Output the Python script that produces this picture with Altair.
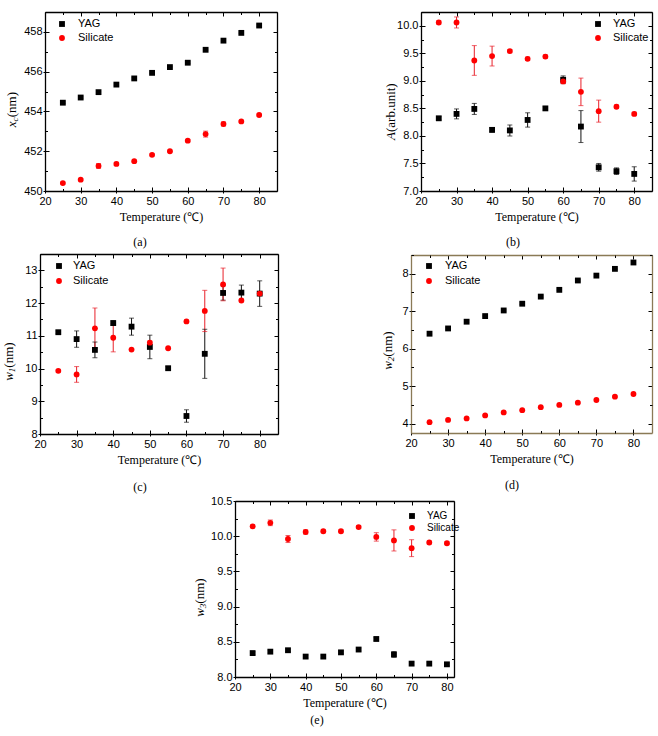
import altair as alt
import pandas as pd

# Temperatures (°C) shared by every panel
TEMPS = [25, 30, 35, 40, 45, 50, 55, 60, 65, 70, 75, 80]
SERIES = ["YAG", "Silicate"]

# (a) peak centre x_c (nm)
XC_YAG = [454.44, 454.70, 454.97, 455.35, 455.66, 455.94, 456.23, 456.45, 457.10, 457.56, 457.95, 458.32]
XC_YAG_ERR = [0.04] * 12
XC_SIL = [450.40, 450.57, 451.26, 451.36, 451.50, 451.82, 452.00, 452.53, 452.86, 453.37, 453.50, 453.82]
XC_SIL_ERR = [0.05, 0.05, 0.12, 0.08, 0.05, 0.05, 0.05, 0.06, 0.15, 0.10, 0.05, 0.05]

# (b) amplitude A (arb. unit)
A_YAG = [8.32, 8.40, 8.49, 8.11, 8.10, 8.29, 8.50, 9.02, 8.17, 7.43, 7.36, 7.31]
A_YAG_ERR = [0.03, 0.09, 0.10, 0.04, 0.10, 0.13, 0.03, 0.07, 0.29, 0.07, 0.06, 0.13]
A_SIL = [10.06, 10.06, 9.37, 9.45, 9.54, 9.40, 9.44, 8.99, 8.80, 8.45, 8.53, 8.40]
A_SIL_ERR = [0.03, 0.10, 0.27, 0.18, 0.03, 0.03, 0.03, 0.04, 0.25, 0.20, 0.03, 0.03]

# (c) width w1 (nm)
W1_YAG = [11.11, 10.90, 10.57, 11.39, 11.28, 10.66, 10.01, 8.55, 10.45, 12.31, 12.32, 12.29]
W1_YAG_ERR = [0.04, 0.25, 0.24, 0.07, 0.26, 0.36, 0.05, 0.19, 0.75, 0.22, 0.23, 0.39]
W1_SIL = [9.93, 9.82, 11.23, 10.94, 10.58, 10.79, 10.62, 11.44, 11.76, 12.57, 12.08, 12.29]
W1_SIL_ERR = [0.04, 0.24, 0.62, 0.43, 0.03, 0.05, 0.03, 0.04, 0.63, 0.50, 0.04, 0.04]

# (d) width w2 (nm)
W2_YAG = [6.40, 6.54, 6.72, 6.87, 7.02, 7.20, 7.39, 7.57, 7.82, 7.95, 8.13, 8.30]
W2_YAG_ERR = [0.02] * 12
W2_SIL = [4.04, 4.10, 4.14, 4.22, 4.30, 4.36, 4.44, 4.50, 4.56, 4.63, 4.72, 4.79]
W2_SIL_ERR = [0.02] * 12

# (e) width w3 (nm)
W3_YAG = [8.34, 8.36, 8.38, 8.29, 8.29, 8.35, 8.39, 8.54, 8.32, 8.19, 8.19, 8.18]
W3_YAG_ERR = [0.02, 0.02, 0.02, 0.02, 0.02, 0.02, 0.02, 0.02, 0.04, 0.02, 0.02, 0.02]
W3_SIL = [10.14, 10.19, 9.96, 10.06, 10.07, 10.07, 10.13, 9.99, 9.94, 9.83, 9.91, 9.90]
W3_SIL_ERR = [0.02, 0.04, 0.05, 0.03, 0.02, 0.02, 0.02, 0.06, 0.15, 0.12, 0.02, 0.02]

X_MAJOR = [20, 30, 40, 50, 60, 70, 80]
X_MINOR = [25, 35, 45, 55, 65, 75]

W, H = 658, 736
SANS = "Liberation Sans"
SERIF = "Liberation Serif"
ONE = pd.DataFrame({"k": [0]})
KEY = pd.DataFrame({"series": SERIES})
IND = dict(x="independent", y="independent", color="independent", shape="independent",
           stroke="independent", fill="independent")

MARK_COLORS = alt.Scale(domain=SERIES, range=["black", "#ff0000"])
MARK_SHAPES = alt.Scale(domain=SERIES, range=["square", "circle"])
BAR_COLORS = alt.Scale(domain=SERIES, range=["#111111", "#e8202a"])
MARK_SIZE = 34


def table(yag, yag_err, sil, sil_err):
    rows = []
    for name, vals, errs in (("YAG", yag, yag_err), ("Silicate", sil, sil_err)):
        for t, v, e in zip(TEMPS, vals, errs):
            rows.append({"T": t, "v": v, "lo": v - e, "hi": v + e, "series": name})
    return pd.DataFrame(rows)


def steps(lo, hi, step):
    out, v = [], lo
    while v <= hi + 1e-9:
        out.append(round(v, 4))
        v += step
    return out


def text_piece(txt, x, y, size, italic=False, dx=0, dy=0, angle=0, align="left", font=SERIF):
    return alt.Chart(ONE).mark_text(
        text=txt, font=font, fontSize=size, fontStyle="italic" if italic else "normal",
        angle=angle, align=align, baseline="middle", dx=dx, dy=dy, color="black",
    ).encode(x=alt.value(x), y=alt.value(y))


def y_title(pieces, x, yc):
    # pieces: (text, italic, size, advance, subscript shift); drawn bottom-to-top
    total = sum(p[3] for p in pieces)
    start = yc + total / 2
    layers, adv = [], 0
    for txt, italic, size, width, sub in pieces:
        layers.append(text_piece(txt, x, start, size, italic, dx=adv, dy=sub, angle=270))
        adv += width
    return layers


def key(sym_x, label_x, rows, font_size=11):
    # series key: one symbol and one label per series, rows placed by a point scale
    rows_scale = alt.Scale(type="point", domain=SERIES, range=list(rows), padding=0)
    sym = alt.Chart(KEY).mark_point(filled=True, size=MARK_SIZE, opacity=1, strokeWidth=0).encode(
        x=alt.value(sym_x),
        y=alt.Y("series:N", scale=rows_scale, axis=None),
        color=alt.Color("series:N", scale=MARK_COLORS, legend=None),
        shape=alt.Shape("series:N", scale=MARK_SHAPES, legend=None),
    )
    lab = alt.Chart(KEY).mark_text(font=SANS, fontSize=font_size, align="left", baseline="middle",
                                   color="black").encode(
        x=alt.value(label_x),
        y=alt.Y("series:N", scale=rows_scale, axis=None),
        text="series:N",
    )
    return alt.layer(sym, lab)


def panel(df, box, xmax, ydom, ymaj, ymin, yfmt, title, title_at, caption, caption_at, frame="black"):
    L, R, T, B = box
    xs = alt.Scale(domain=[20, xmax], range=[L, R], nice=False, zero=False)
    ys = alt.Scale(domain=ydom, range=[B, T], nice=False, zero=False)
    base = alt.Chart(df)

    def yy(field, axis):
        return alt.Y(f"{field}:Q", scale=ys, axis=axis)

    def xx(axis):
        return alt.X("T:Q", scale=xs, axis=axis)

    stroke = alt.Stroke("series:N", scale=BAR_COLORS, legend=None)
    fill = alt.Fill("series:N", scale=BAR_COLORS, legend=None)

    bars = base.mark_rule(strokeWidth=1).encode(x=xx(None), y=yy("lo", None), y2="hi:Q", stroke=stroke)
    cap_lo = base.mark_tick(orient="horizontal", size=5, thickness=1).encode(
        x=xx(None), y=yy("lo", None), fill=fill)
    cap_hi = base.mark_tick(orient="horizontal", size=5, thickness=1).encode(
        x=xx(None), y=yy("hi", None), fill=fill)
    pts = base.mark_point(filled=True, size=MARK_SIZE, opacity=1, strokeWidth=0).encode(
        x=xx(None), y=yy("v", None),
        color=alt.Color("series:N", scale=MARK_COLORS, legend=None),
        shape=alt.Shape("series:N", scale=MARK_SHAPES, legend=None),
    )

    frame_style = dict(domain=True, domainColor=frame, domainWidth=1.3, grid=False)
    labelled = base.mark_point(opacity=0).encode(
        x=xx(alt.Axis(orient="bottom", offset=-(H - B), values=X_MAJOR, title="Temperature (℃)",
                      tickSize=2, labelPadding=2, titlePadding=5, labelFlush=False,
                      labelOverlap=False, **frame_style)),
        y=yy("v", alt.Axis(orient="left", offset=-L, values=ymaj, title=None, format=yfmt,
                           tickSize=2, labelPadding=1, labelFlush=False, labelOverlap=False,
                           **frame_style)),
    )

    def ticks_low_left(xvals, yvals, size):
        # ticks pointing into the box from the bottom and left edges
        return base.mark_point(opacity=0).encode(
            x=xx(alt.Axis(orient="top", offset=-B, values=xvals, tickSize=size, labels=False,
                          title=None, grid=False, domain=False)),
            y=yy("v", alt.Axis(orient="right", offset=-(W - L), values=yvals, tickSize=size,
                               labels=False, title=None, grid=False, domain=False)),
        )

    def ticks_top_right(xvals, yvals, size, dom):
        # ticks pointing into the box from the top and right edges (these carry the frame)
        style = frame_style if dom else dict(domain=False, grid=False)
        return base.mark_point(opacity=0).encode(
            x=xx(alt.Axis(orient="bottom", offset=-(H - T), values=xvals, tickSize=size,
                          labels=False, title=None, **style)),
            y=yy("v", alt.Axis(orient="left", offset=-R, values=yvals, tickSize=size,
                               labels=False, title=None, **style)),
        )

    layers = [labelled,
              ticks_low_left(X_MAJOR, ymaj, 4), ticks_top_right(X_MAJOR, ymaj, 4, True),
              ticks_low_left(X_MINOR, ymin, 2.5), ticks_top_right(X_MINOR, ymin, 2.5, False),
              bars, cap_lo, cap_hi, pts]
    layers += y_title(title, title_at[0], title_at[1])
    layers.append(text_piece(caption, caption_at[0], caption_at[1], 12, align="center"))
    return alt.layer(*layers).resolve_axis(x="independent", y="independent")


NM = (" (nm)", False, 13, 28.5, 0)

pa = panel(table(XC_YAG, XC_YAG_ERR, XC_SIL, XC_SIL_ERR), (45, 277, 12, 191), 85, [450, 459],
           steps(450, 458, 2), steps(451, 459, 2), "d",
           [("x", True, 13, 5.8, 0), ("c", True, 9, 4.2, 3), NM], (12, 108),
           "(a)", (140, 242))
pb = panel(table(A_YAG, A_YAG_ERR, A_SIL, A_SIL_ERR), (421, 652, 12, 191), 85, [7.0, 10.25],
           steps(7.0, 10.0, 0.5), steps(7.25, 10.25, 0.5), ".1f",
           [("A", True, 13, 7.9, 0), (" (arb.unit)", False, 13, 52, 0)], (391, 110),
           "(b)", (513, 242))
pc = panel(table(W1_YAG, W1_YAG_ERR, W1_SIL, W1_SIL_ERR), (40, 278, 254, 434), 85, [8, 13.5],
           steps(8, 13, 1), steps(8.5, 13.5, 1), "d",
           [("w", True, 13, 8.7, 0), ("1", True, 9, 4.5, 3), NM], (9, 360),
           "(c)", (140, 487))
pd_ = panel(table(W2_YAG, W2_YAG_ERR, W2_SIL, W2_SIL_ERR), (411, 652, 255, 433), 85, [3.75, 8.5],
            steps(4, 8, 1), steps(4.5, 8.5, 1), "d",
            [("w", True, 13, 8.7, 0), ("2", True, 9, 4.5, 3), NM], (388, 349),
            "(d)", (512, 485), frame="#8a7a56")
pe = panel(table(W3_YAG, W3_YAG_ERR, W3_SIL, W3_SIL_ERR), (235, 454, 501, 677), 82, [8.0, 10.5],
           steps(8.0, 10.5, 0.5), steps(8.25, 10.25, 0.5), ".1f",
           [("w", True, 13, 8.7, 0), ("3", True, 9, 4.5, 3), NM], (200, 596),
           "(e)", (317, 720))

keys = [
    key(62, 78, (24, 38)),
    key(598, 613, (24, 38)),
    key(59, 73, (266, 281)),
    key(429, 445, (266, 281)),
    key(412, 427, (516, 528), font_size=10),
]

chart = alt.layer(pa, pb, pc, pd_, pe, *keys).resolve_scale(**IND).properties(
    width=W, height=H,
    autosize=alt.AutoSizeParams(type="none"),
    padding=0,
    background="white",
).configure_view(
    stroke=None,
).configure_axis(
    labelFont=SANS, labelFontSize=11, labelColor="black",
    titleFont=SERIF, titleFontSize=12, titleFontWeight="normal", titleColor="black",
    tickColor="black", tickWidth=1,
)

chart.save("out.html", embed_options={"renderer": "svg", "actions": False})
